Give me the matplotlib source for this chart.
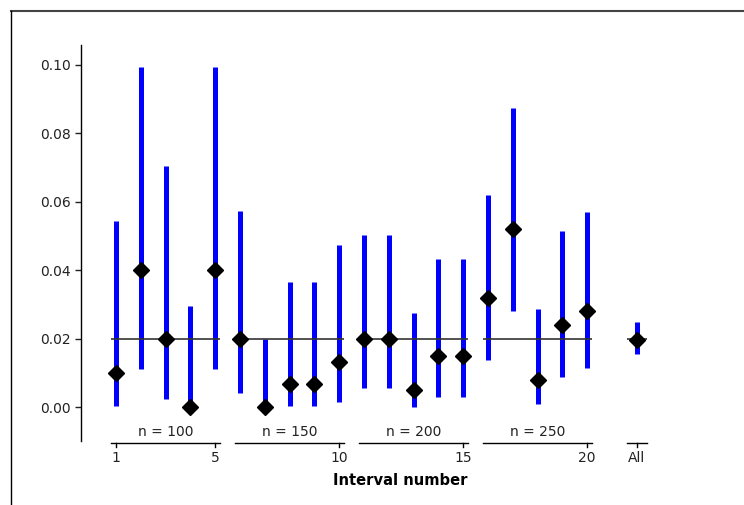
import matplotlib
matplotlib.use("Agg")
import matplotlib.pyplot as plt
from matplotlib.lines import Line2D

# interval estimates and 95% confidence limits (20 intervals + pooled "All")
positions = [1, 2, 3, 4, 5, 6, 7, 8, 9, 10, 11, 12, 13, 14, 15, 16, 17, 18, 19, 20, 22]
estimates = [0.01, 0.04, 0.02, 0.0, 0.04,
             0.02, 0.0, 0.0067, 0.0067, 0.0133,
             0.02, 0.02, 0.005, 0.015, 0.015,
             0.032, 0.052, 0.008, 0.024, 0.028,
             0.0197]
lower = [0.0003, 0.011, 0.0024, 0.0, 0.011,
         0.0041, 0.0, 0.0002, 0.0002, 0.0016,
         0.0055, 0.0055, 0.0001, 0.0031, 0.0031,
         0.0139, 0.028, 0.001, 0.0088, 0.0113,
         0.0154]
upper = [0.0545, 0.0993, 0.0704, 0.0295, 0.0993,
         0.0573, 0.0198, 0.0366, 0.0366, 0.0473,
         0.0504, 0.0504, 0.0275, 0.0432, 0.0432,
         0.0621, 0.0873, 0.0286, 0.0515, 0.0569,
         0.0249]

group_labels = ["n = 100", "n = 150", "n = 200", "n = 250"]
group_starts = [1, 6, 11, 16]
group_ends = [5, 10, 15, 20]
all_pos = 22
true_rate = 0.02

tick_pos = [1, 5, 10, 15, 20, 22]
tick_labels = ["1", "5", "10", "15", "20", "All"]

fig = plt.figure(figsize=(7.44, 5.05), dpi=100)
ax = fig.add_axes([0.1089, 0.1267, 0.832, 0.7842])

ax.vlines(positions, lower, upper, colors="#0000ff", linewidth=3.6)
ax.plot(positions, estimates, "D", color="black", markersize=8, zorder=3)

# reference line at the true rate, one segment per group
seg_lo = [s - 0.2 for s in group_starts] + [all_pos - 0.4]
seg_hi = [e + 0.2 for e in group_ends] + [all_pos + 0.4]
ax.hlines([true_rate] * len(seg_lo), seg_lo, seg_hi, colors="#333333",
          linewidth=1.2, zorder=2)

ax.set_xlim(-0.41, 24.55)
ax.set_ylim(-0.0099, 0.1058)
ax.set_yticks([0.0, 0.02, 0.04, 0.06, 0.08, 0.10])
ax.set_yticklabels(["0.00", "0.02", "0.04", "0.06", "0.08", "0.10"])
ax.tick_params(axis="y", labelsize=10, length=4, width=1, colors="#222222")
ax.set_xticks([])
for side in ["top", "right", "bottom"]:
    ax.spines[side].set_visible(False)
ax.spines["left"].set_linewidth(1)

# custom grouped x axis drawn below the plot
line_y = -0.0104
for lo, hi in zip(seg_lo, seg_hi):
    ax.plot([lo, hi], [line_y, line_y], color="black", lw=1, clip_on=False)
for p, lab in zip(tick_pos, tick_labels):
    ax.plot([p, p], [line_y, line_y - 0.0012], color="black", lw=1, clip_on=False)
    ax.text(p, -0.0149, lab, ha="center", va="center", fontsize=10, color="#222222")
for s, e, lab in zip(group_starts, group_ends, group_labels):
    ax.text((s + e) / 2, -0.0073, lab, ha="center", va="center", fontsize=10,
            color="#222222")
ax.text(12.45, -0.0213, "Interval number", ha="center", va="center",
        fontsize=10.6, fontweight="bold")

# frame around the figure
fig.add_artist(Line2D([11 / 744, 1], [1 - 10.5 / 505, 1 - 10.5 / 505],
                      color="#444444", lw=1.5))
fig.add_artist(Line2D([11 / 744, 11 / 744], [0, 1 - 10.5 / 505],
                      color="black", lw=1))

fig.savefig("out.png", dpi=100)
